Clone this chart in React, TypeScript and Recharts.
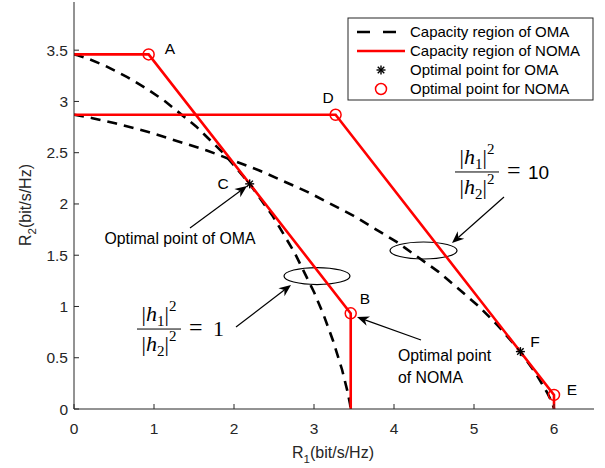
import React from 'react'
import { ComposedChart, Line, Scatter, XAxis, YAxis, Customized } from 'recharts'

// capacity regions, two-user downlink
// |h1|^2/|h2|^2 = 1
const omaEqR1 = [0, 0.055, 0.179, 0.383, 0.666, 0.912, 1.134, 1.53, 1.88, 2.196, 2.486, 2.754, 3.004, 3.123, 3.238, 3.351, 3.416, 3.449, 3.459]
const omaEqR2 = [3.459, 3.449, 3.416, 3.351, 3.238, 3.123, 3.004, 2.754, 2.486, 2.196, 1.88, 1.53, 1.134, 0.912, 0.666, 0.383, 0.179, 0.055, 0]
const nomaEqR1 = [0, 0.933, 3.459, 3.459]
const nomaEqR2 = [3.459, 3.459, 0.933, 0]

// |h1|^2/|h2|^2 = 10
const omaTenR1 = [0, 0.126, 0.232, 0.515, 0.93, 1.661, 2.317, 2.924, 3.496, 4.038, 4.557, 5.056, 5.298, 5.537, 5.771, 5.91, 5.957, 5.98, 6.002]
const omaTenR2 = [2.87, 2.853, 2.837, 2.787, 2.702, 2.522, 2.327, 2.116, 1.884, 1.627, 1.338, 1.005, 0.814, 0.6, 0.35, 0.166, 0.093, 0.052, 0]
const nomaTenR1 = [0, 3.27, 6.0, 6.0]
const nomaTenR2 = [2.87, 2.87, 0.137, 0]

// optimal points
const omaOptR1 = [2.196, 5.58]
const omaOptR2 = [2.196, 0.56]
const nomaOptR1 = [0.933, 3.459, 3.27, 6.0]
const nomaOptR2 = [3.459, 0.933, 2.87, 0.137]

const xTicks = [0, 1, 2, 3, 4, 5, 6]
const yTicks = [0, 0.5, 1, 1.5, 2, 2.5, 3, 3.5]

const zip = (xs: number[], ys: number[]) => xs.map((x, i) => ({ x, y: ys[i] }))

const W = 605
const H = 468
const LEFT = 74
const TOP = 2
const PW = 520
const PH = 407
const X_MAX = 6.5
const Y_MAX = 3.97

const px = (x: number) => LEFT + (x / X_MAX) * PW
const py = (y: number) => TOP + (1 - y / Y_MAX) * PH

const SANS = '"Liberation Sans", Arial, Helvetica, sans-serif'
const SERIF = '"Liberation Serif", "Times New Roman", serif'
const AXIS = '#262626'

const pointLabels = [
    { t: 'A', x: 1.2, y: 3.521 },
    { t: 'D', x: 3.175, y: 3.043 },
    { t: 'C', x: 1.8625, y: 2.204 },
    { t: 'B', x: 3.6375, y: 1.083 },
    { t: 'F', x: 5.7625, y: 0.663 },
    { t: 'E', x: 6.225, y: 0.195 },
]

const Asterisk = (props: any) => {
    const { cx, cy } = props
    const r = 4.5
    const d = r * 0.72
    return (
        <g stroke="#000" strokeWidth={1.4}>
            <line x1={cx - r} y1={cy} x2={cx + r} y2={cy} />
            <line x1={cx} y1={cy - r} x2={cx} y2={cy + r} />
            <line x1={cx - d} y1={cy - d} x2={cx + d} y2={cy + d} />
            <line x1={cx - d} y1={cy + d} x2={cx + d} y2={cy - d} />
        </g>
    )
}

const OpenCircle = (props: any) => {
    const { cx, cy } = props
    return <circle cx={cx} cy={cy} r={5.5} fill="none" stroke="#ff0000" strokeWidth={1.5} />
}

const Arrow = ({ x1, y1, x2, y2 }: { x1: number; y1: number; x2: number; y2: number }) => {
    const ax = px(x1), ay = py(y1), bx = px(x2), by = py(y2)
    const len = Math.hypot(bx - ax, by - ay)
    const ux = (bx - ax) / len, uy = (by - ay) / len
    const hl = 12, hw = 5
    const baseX = bx - ux * hl, baseY = by - uy * hl
    const notchX = bx - ux * hl * 0.7, notchY = by - uy * hl * 0.7
    const head = `M${bx},${by} L${baseX - uy * hw},${baseY + ux * hw} L${notchX},${notchY} L${baseX + uy * hw},${baseY - ux * hw} Z`
    return (
        <g>
            <line x1={ax} y1={ay} x2={notchX} y2={notchY} stroke="#000" strokeWidth={1.2} />
            <path d={head} fill="#000" />
        </g>
    )
}

const Fraction = ({ x, y, rhs, rhsSans }: { x: number; y: number; rhs: string; rhsSans?: boolean }) => {
    const bx = px(x), by = py(y)
    const w = 44
    const part = (n: string, key: string, yy: number) => (
        <text key={key} x={bx + w / 2} y={yy} textAnchor="middle" fontFamily={SERIF} fontSize={22} fill="#000">
            <tspan>|</tspan>
            <tspan fontStyle="italic">h</tspan>
            <tspan fontSize={15} dy={5}>{n}</tspan>
            <tspan dy={-5}>|</tspan>
            <tspan fontSize={15} dy={-10}>2</tspan>
        </text>
    )
    return (
        <g>
            {part('1', 'num', by - 8)}
            <line x1={bx} y1={by} x2={bx + w} y2={by} stroke="#000" strokeWidth={1} />
            {part('2', 'den', by + 22)}
            <text x={bx + 52} y={by + 6} fontFamily={SERIF} fontSize={24} fill="#000">=</text>
            {rhsSans ? (
                <text x={bx + 73} y={by + 7} style={{ fontFamily: SANS }} fontSize={19} fill="#000">{rhs}</text>
            ) : (
                <text x={bx + 76} y={by + 7} fontFamily={SERIF} fontSize={22} fill="#000">{rhs}</text>
            )}
        </g>
    )
}

const Annotations = () => (
    <g>
        {pointLabels.map((p) => (
            <text key={p.t} x={px(p.x)} y={py(p.y)} dy="0.36em" textAnchor="middle" fontFamily={SANS} fontSize={15.5} fill="#000">
                {p.t}
            </text>
        ))}

        <text x={px(1.325)} y={py(1.668)} dy="0.36em" textAnchor="middle" fontFamily={SANS} fontSize={15.8} fill="#000">
            Optimal point of OMA
        </text>
        <Arrow x1={1.45} y1={1.766} x2={2.1625} y2={2.175} />

        <text x={px(4.05)} y={py(0.527)} dy="0.36em" fontFamily={SANS} fontSize={15.8} fill="#000">Optimal point</text>
        <text x={px(4.05)} y={py(0.312)} dy="0.36em" fontFamily={SANS} fontSize={15.8} fill="#000">of NOMA</text>
        <Arrow x1={4.3375} y1={0.673} x2={3.5375} y2={0.897} />

        <ellipse cx={px(3.0375)} cy={py(1.297)} rx={33} ry={8.5} fill="none" stroke="#000" strokeWidth={1.2} />
        <Arrow x1={2.025} y1={0.8} x2={2.7125} y2={1.2095} />
        <Fraction x={0.7875} y={0.78} rhs="1" />

        <ellipse cx={px(4.369)} cy={py(1.546)} rx={33.5} ry={8.5} fill="none" stroke="#000" strokeWidth={1.2} />
        <Arrow x1={5.375} y1={2.068} x2={4.725} y2={1.619} />
        <Fraction x={4.7625} y={2.312} rhs="10" rhsSans />

        {/* axis titles */}
        <text x={333} y={458} textAnchor="middle" fontFamily={SANS} fontSize={16} fill={AXIS}>
            R<tspan fontSize={11.5} dy={5}>1</tspan><tspan dy={-5}>(bit/s/Hz)</tspan>
        </text>
        <text transform="translate(31,205) rotate(-90)" textAnchor="middle" fontFamily={SANS} fontSize={16} fill={AXIS}>
            R<tspan fontSize={11.5} dy={5}>2</tspan><tspan dy={-5}>(bit/s/Hz)</tspan>
        </text>

        {/* legend */}
        <g fontFamily={SANS} fontSize={15} fill="#000">
            <rect x={348} y={18} width={245} height={82} fill="#fff" stroke={AXIS} strokeWidth={1} />
            <line x1={357} y1={32} x2={405} y2={32} stroke="#000" strokeWidth={2.5} strokeDasharray="13 13" />
            <text x={410} y={32} dy="0.36em">Capacity region of OMA</text>
            <line x1={357} y1={51} x2={405} y2={51} stroke="#ff0000" strokeWidth={2.5} />
            <text x={410} y={51} dy="0.36em">Capacity region of NOMA</text>
            <Asterisk cx={381} cy={70} />
            <text x={410} y={70} dy="0.36em">Optimal point for OMA</text>
            <OpenCircle cx={381} cy={89} />
            <text x={410} y={89} dy="0.36em">Optimal point for NOMA</text>
        </g>
    </g>
)

export default function App() {
    const tickStyle = { fontSize: 15.5, fill: AXIS, fontFamily: SANS }
    return (
        <div style={{ position: 'absolute', left: 0, top: 0, width: W, height: H, background: '#fff' }}>
            <ComposedChart width={W} height={H} margin={{ top: TOP, right: W - LEFT - PW, bottom: 0, left: 14 }}>
                <XAxis
                    dataKey="x"
                    type="number"
                    domain={[0, X_MAX]}
                    ticks={xTicks}
                    allowDataOverflow
                    height={H - TOP - PH}
                    tickSize={-5}
                    tickMargin={19}
                    tick={tickStyle}
                    stroke={AXIS}
                />
                <XAxis
                    xAxisId="top"
                    orientation="top"
                    dataKey="x"
                    type="number"
                    domain={[0, X_MAX]}
                    ticks={xTicks}
                    allowDataOverflow
                    height={0}
                    tickSize={-5}
                    tick={false}
                    stroke={AXIS}
                />
                <YAxis
                    dataKey="y"
                    type="number"
                    domain={[0, Y_MAX]}
                    ticks={yTicks}
                    allowDataOverflow
                    width={60}
                    tickSize={-5}
                    tickMargin={11}
                    tick={tickStyle}
                    stroke={AXIS}
                />
                <YAxis
                    yAxisId="right"
                    orientation="right"
                    dataKey="y"
                    type="number"
                    domain={[0, Y_MAX]}
                    ticks={yTicks}
                    allowDataOverflow
                    width={0}
                    tickSize={-5}
                    tick={false}
                    stroke={AXIS}
                />

                <Line data={zip(omaEqR1, omaEqR2)} dataKey="y" type="linear" stroke="#000" strokeWidth={2.6} strokeDasharray="10 7" dot={false} activeDot={false} isAnimationActive={false} />
                <Line data={zip(omaTenR1, omaTenR2)} dataKey="y" type="linear" stroke="#000" strokeWidth={2.6} strokeDasharray="10 7" dot={false} activeDot={false} isAnimationActive={false} />
                <Line data={zip(nomaEqR1, nomaEqR2)} dataKey="y" type="linear" stroke="#ff0000" strokeWidth={2.6} dot={false} activeDot={false} isAnimationActive={false} />
                <Line data={zip(nomaTenR1, nomaTenR2)} dataKey="y" type="linear" stroke="#ff0000" strokeWidth={2.6} dot={false} activeDot={false} isAnimationActive={false} />

                <Scatter data={zip(omaOptR1, omaOptR2)} dataKey="y" shape={Asterisk} isAnimationActive={false} />
                <Scatter data={zip(nomaOptR1, nomaOptR2)} dataKey="y" shape={OpenCircle} isAnimationActive={false} />

                <Customized component={<Annotations />} />
            </ComposedChart>
        </div>
    )
}
